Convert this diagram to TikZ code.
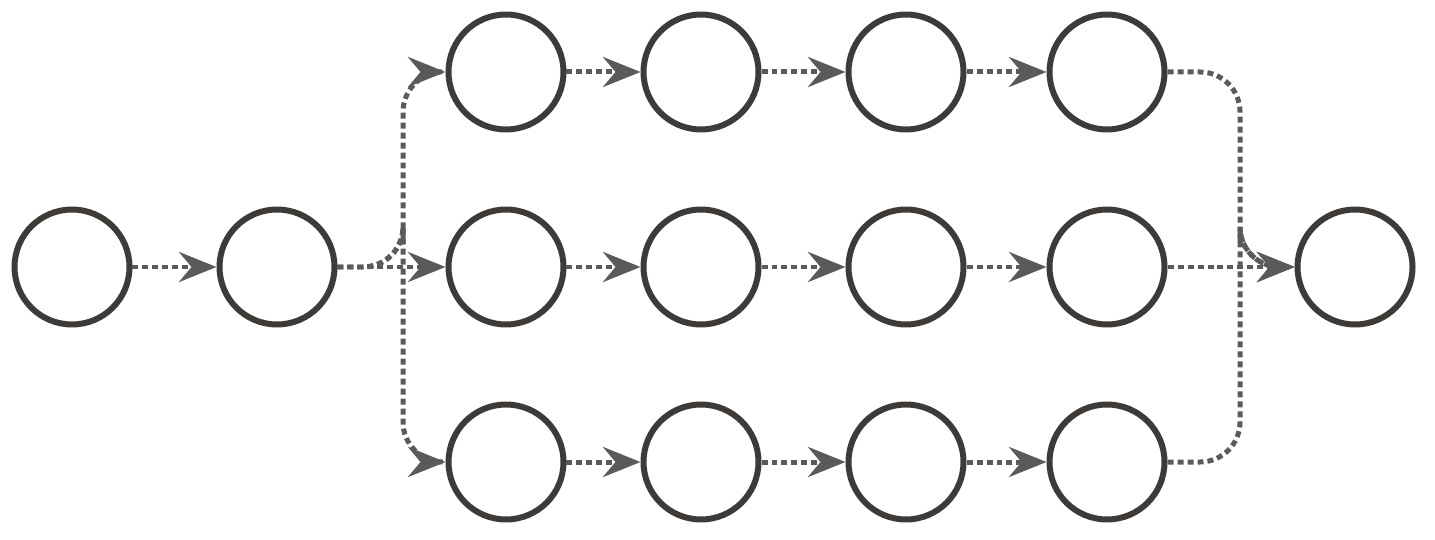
\documentclass[tikz,border=0pt]{standalone}
\usetikzlibrary{arrows.meta}
\definecolor{ring}{HTML}{3D3A37}
\definecolor{flow}{HTML}{5A5A58}
\tikzstyle{state} = [circle, draw=ring, line width=0.12cm, minimum size=2.3cm, inner sep=0pt]
\tikzstyle{link} = [draw=flow, line width=0.1cm, dash pattern=on 0.12cm off 0.08cm,
  -{Stealth[length=0.75cm, width=0.6cm, inset=0.25cm]}]

\begin{document}
\begin{tikzpicture}[x=0.02cm, y=-0.02cm]
\useasboundingbox (0,0) rectangle (1435,540);
\node[state] (s) at (72,267) {};
\node[state] (f) at (277,267) {};
\foreach \r/\y in {t/72, m/267, b/462} {
  \node[state] (\r1) at (506,\y) {};
  \node[state] (\r2) at (701,\y) {};
  \node[state] (\r3) at (906,\y) {};
  \node[state] (\r4) at (1107,\y) {};
}
\node[state] (e) at (1355,267) {};
\coordinate (split) at (403,267);
\coordinate (merge) at (1240,267);
% chain
\draw[link] (s) -- (f);
\foreach \r in {t, m, b} {
  \draw[link] (\r1) -- (\r2);
  \draw[link] (\r2) -- (\r3);
  \draw[link] (\r3) -- (\r4);
}
% fork and join
\draw[link, rounded corners=0.8cm] (f.east) -| (split) |- (t1.west);
\draw[link] (f.east) -- (m1.west);
\draw[link, rounded corners=0.8cm] (f.east) -| (split) |- (b1.west);
\draw[link, rounded corners=0.8cm] (t4.east) -| (merge) |- (e.west);
\draw[link] (m4.east) -- (e.west);
\draw[link, rounded corners=0.8cm] (b4.east) -| (merge) |- (e.west);
\end{tikzpicture}
\end{document}
